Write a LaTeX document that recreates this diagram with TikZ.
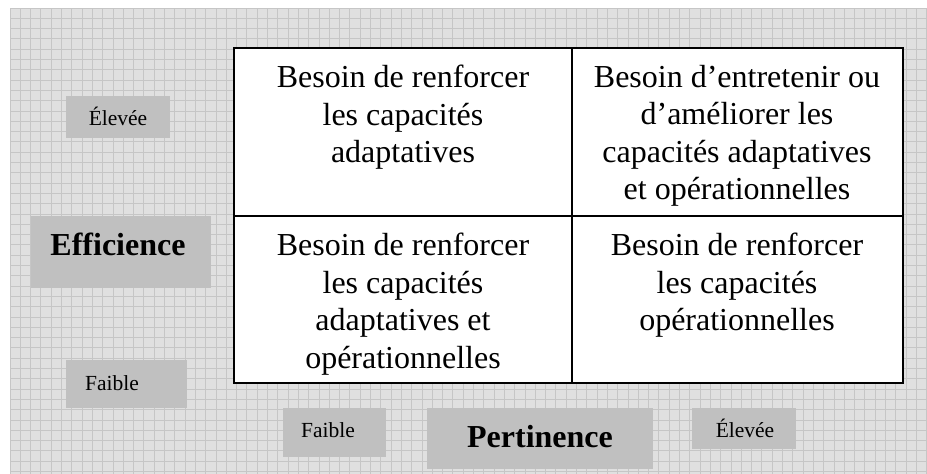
\documentclass[tikz,border=0pt]{standalone}
\usepackage{fontspec}
\setmainfont{Liberation Serif}
\definecolor{bgc}{HTML}{E0E0E0}
\definecolor{gridc}{HTML}{C6C6C6}
\definecolor{boxc}{HTML}{C0C0C0}
\tikzset{
  lab/.style={fill=boxc, inner sep=0pt, anchor=north west},
  celltxt/.style={align=center, inner sep=0pt, anchor=north, font=\fontsize{32}{37.5}\selectfont},
  smalltxt/.style={inner sep=0pt, anchor=base, font=\fontsize{21.5}{24}\selectfont},
  bigtxt/.style={inner sep=0pt, anchor=base, font=\fontsize{32}{36}\selectfont\bfseries},
}
\begin{document}
\begin{tikzpicture}[x=1pt,y=-1pt]
\useasboundingbox (0,0) rectangle (927,474);
% background
\fill[bgc] (10,8) rectangle (927,474);
\foreach \i in {0,...,89} {
  \draw[gridc, line width=1pt] ({10+10.3*\i},8) -- ({10+10.3*\i},474);
}
\foreach \j in {0,...,45} {
  \draw[gridc, line width=1pt] (10,{8+10.3*\j}) -- (927,{8+10.3*\j});
}
% label boxes
\node[lab, minimum width=104pt, minimum height=42pt] (hiL) at (66,96) {};
\node[lab, minimum width=180pt, minimum height=72pt] (effB) at (31,216) {};
\node[lab, minimum width=121pt, minimum height=48pt] (loL) at (66,360) {};
\node[lab, minimum width=103pt, minimum height=49pt] (loB) at (283,408) {};
\node[lab, minimum width=226pt, minimum height=61pt] (pertB) at (427,408) {};
\node[lab, minimum width=104pt, minimum height=41pt] (hiB) at (692,408) {};
% label texts
\node[smalltxt] (hiLt) at (118,125) {Élevée};
\node[bigtxt] (efft) at (118,255) {Efficience};
\node[smalltxt] (loLt) at (112,390) {Faible};
\node[smalltxt] (loBt) at (328,437) {Faible};
\node[bigtxt] (pertt) at (540,447) {Pertinence};
\node[smalltxt] (hiBt) at (745,437) {Élevée};
% table
\coordinate (tl) at (234,48);
\coordinate (br) at (903,383);
\fill[white] (tl) rectangle (br);
\draw[line width=2pt] (tl) rectangle (br);
\coordinate (vt) at (572,48);
\coordinate (vb) at (572,383);
\coordinate (hl) at (234,216);
\coordinate (hr) at (903,216);
\draw[line width=2pt] (vt) -- (vb);
\draw[line width=2pt] (hl) -- (hr);
% cell texts
\node[celltxt] (c11) at (403,65) {Besoin de renforcer\\les capacités\\adaptatives};
\node[celltxt] (c12) at (737,65) {Besoin d’entretenir ou\\d’améliorer les\\capacités adaptatives\\et opérationnelles};
\node[celltxt] (c21) at (403,233) {Besoin de renforcer\\les capacités\\adaptatives et\\opérationnelles};
\node[celltxt] (c22) at (737,233) {Besoin de renforcer\\les capacités\\opérationnelles};
\end{tikzpicture}
\end{document}
